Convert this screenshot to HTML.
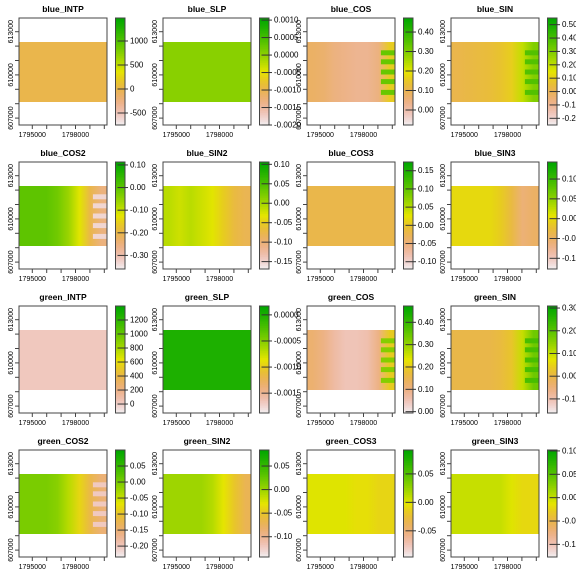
<!DOCTYPE html>
<html><head><meta charset="utf-8"><style>
html,body{margin:0;padding:0;background:#fff;}
svg{display:block;font-family:"Liberation Sans",Arial,sans-serif;}
</style></head><body>
<svg id="fig" width="576" height="576" viewBox="0 0 576 576"></svg>
<script>
// ---- data ----
const titles = ["blue_INTP","blue_SLP","blue_COS","blue_SIN","blue_COS2","blue_SIN2","blue_COS3","blue_SIN3",
"green_INTP","green_SLP","green_COS","green_SIN","green_COS2","green_SIN2","green_COS3","green_SIN3"];
const legendMin = [-750,-0.0020,-0.077,-0.25,-0.36,-0.169,-0.12,-0.127,-128,-0.00188,-0.006,-0.162,-0.234,-0.143,-0.096,-0.127];
const legendMax = [1479,0.00106,0.472,0.55,0.113,0.106,0.174,0.143,1400,0.00017,0.473,0.309,0.10,0.084,0.092,0.102];
const legendTicks = [
 [1000,500,0,-500],
 [0.0010,0.0005,0.0000,-0.0005,-0.0010,-0.0015,-0.0020],
 [0.40,0.30,0.20,0.10,0.00],
 [0.50,0.40,0.30,0.20,0.10,0.00,-0.10,-0.20],
 [0.10,0.00,-0.10,-0.20,-0.30],
 [0.10,0.05,0.00,-0.05,-0.10,-0.15],
 [0.15,0.10,0.05,0.00,-0.05,-0.10],
 [0.10,0.05,0.00,-0.05,-0.10],
 [1200,1000,800,600,400,200,0],
 [0.0000,-0.0005,-0.0010,-0.0015],
 [0.40,0.30,0.20,0.10,0.00],
 [0.30,0.20,0.10,0.00,-0.10],
 [0.05,0.00,-0.05,-0.10,-0.15,-0.20],
 [0.05,0.00,-0.05,-0.10],
 [0.05,0.00,-0.05],
 [0.10,0.05,0.00,-0.05,-0.10]];
const tickDigits = [0,4,2,2,2,2,2,2,0,4,2,2,2,2,2,2];
// raster mean values across 8 vertical bands (west -> east)
const bandValues = [
 [0,0,0,0,0,0,0,0],
 [0.00005,0.00005,0.00005,0.00005,0.00005,0.00005,0.00005,0.00005],
 [0.08,0.07,0.05,0.04,0.03,0.03,0.05,0.16],
 [0.02,0.03,0.04,0.05,0.07,0.1,0.2,0.3],
 [0.0,0.0,0.0,-0.02,-0.06,-0.12,-0.2,-0.25],
 [-0.01,-0.02,-0.01,-0.02,-0.03,-0.05,-0.07,-0.08],
 [-0.02,-0.02,-0.02,-0.02,-0.02,-0.02,-0.02,-0.02],
 [0.0,0.0,0.0,0.0,-0.01,-0.03,-0.06,-0.05],
 [30,30,30,30,30,30,30,30],
 [0.0,0.0,0.0,0.0,0.0,0.0,0.0,0.0],
 [0.12,0.1,0.07,0.05,0.05,0.06,0.1,0.2],
 [0.0,0.0,0.0,0.0,0.01,0.03,0.1,0.18],
 [0.0,0.0,0.0,-0.01,-0.04,-0.08,-0.12,-0.15],
 [0.0,0.0,0.0,0.0,-0.01,-0.03,-0.05,-0.07],
 [0.0,0.0,0.0,0.0,-0.005,-0.005,-0.01,-0.01],
 [0.0,0.0,0.0,0.0,0.0,-0.01,-0.02,-0.02]];
// east-side streaks: value per panel (null = none), at relative heights
const streakValue = [null,null,0.33,0.38,-0.33,null,null,null,null,null,0.32,0.22,-0.2,null,null,null];
const streakRows = [0.18,0.33,0.5,0.66,0.84];
const xTicks = [1795000,1796000,1797000,1798000,1799000,1800000];
const xLabels = [1795000,1798000];
const yTicks = [613000,612000,611000,610000,609000,608000,607000];
const yLabels = [613000,610000,607000];

// ---- helpers ----
const NS="http://www.w3.org/2000/svg";
const svg=document.getElementById('fig');
function mk(tag,attrs,parent){const e=document.createElementNS(NS,tag);for(const k in attrs)e.setAttribute(k,attrs[k]);(parent||svg).appendChild(e);return e;}
function hsv(h,s,v){const i=Math.floor(h*6),f=h*6-i,p=v*(1-s),q=v*(1-f*s),t=v*(1-(1-f)*s);let r,g,b;
 switch(((i%6)+6)%6){case 0:r=v;g=t;b=p;break;case 1:r=q;g=v;b=p;break;case 2:r=p;g=v;b=t;break;case 3:r=p;g=q;b=v;break;case 4:r=t;g=p;b=v;break;default:r=v;g=p;b=q;}
 return `rgb(${Math.round(r*255)},${Math.round(g*255)},${Math.round(b*255)})`;}
function cmap(t){t=Math.max(0,Math.min(1,t));const p=1-t;
 if(p<0.5){const u=p/0.5;return hsv(4/12-2/12*u,1,0.65+0.25*u);}
 const u=(p-0.5)/0.5;return hsv(2/12*(1-u),1-u,0.9+0.05*u);}

const X0=32.3, Y0=31.7, S=14.4/1000;
function xs(v){return X0+(v-1795000)*S;}
function ys(v){return Y0+(613000-v)*S;}
const BX0=19,BX1=107,BY0=18,BY1=125,RY0=42,RY1=102,LX0=115.5,LX1=125;

titles.forEach((name,i)=>{
 const ox=(i%4)*144, oy=Math.floor(i/4)*144;
 const g=mk('g',{transform:`translate(${ox},${oy})`});
 
 
 const lo=legendMin[i],hi=legendMax[i];
 const vt=v=>(v-lo)/(hi-lo);
 const ly=v=>BY1-(v-lo)/(hi-lo)*(BY1-BY0);
 const t=mk('text',{x:63,y:12,'text-anchor':'middle','font-size':'8.5','font-weight':'bold',fill:'#000'},g);
 t.textContent=name;
 
 
 // raster
 const gid='grad'+i;
 const lg=mk('linearGradient',{id:gid,x1:'0',x2:'1',y1:'0',y2:'0'},mk('defs',{},g));
 bandValues[i].forEach((v,k)=>mk('stop',{offset:((k+0.5)/8).toFixed(3),'stop-color':cmap(vt(v))},lg));
 const r=mk('rect',{x:BX0,y:RY0,width:BX1-BX0,height:RY1-RY0,fill:`url(#${gid})`},g);
 
 
 if(streakValue[i]!==null){
  streakRows.forEach(fr=>{
   const s=mk('rect',{x:BX0+(BX1-BX0)*0.84,y:RY0+(RY1-RY0)*fr-2.5,width:(BX1-BX0)*0.16,height:5,fill:cmap(vt(streakValue[i]))},g);
   
   
  });
 }
 // box
 const b=mk('rect',{x:BX0,y:BY0,width:BX1-BX0,height:BY1-BY0,fill:'none',stroke:'#444','stroke-width':1},g);
 
 
 // x ticks
 xTicks.forEach(v=>mk('line',{x1:xs(v),x2:xs(v),y1:BY1,y2:BY1+4,stroke:'#444'},g));
 xLabels.forEach(v=>{const tx=mk('text',{x:xs(v),y:BY1+12,'text-anchor':'middle','font-size':'7',fill:'#000'},g);tx.textContent=v;
  
  });
 yTicks.forEach(v=>mk('line',{x1:BX0-4,x2:BX0,y1:ys(v),y2:ys(v),stroke:'#444'},g));
 yLabels.forEach(v=>{const tx=mk('text',{x:0,y:0,transform:`translate(13,${ys(v)}) rotate(-90)`,'text-anchor':'middle','font-size':'7',fill:'#000'},g);tx.textContent=v;
  
  });
 // legend
 const lgG=mk('g',{},g);
 
 
 const N=60;
 for(let k=0;k<N;k++){const y0=BY1-(k+1)*(BY1-BY0)/N;
  mk('rect',{x:LX0,y:y0,width:LX1-LX0,height:(BY1-BY0)/N+0.4,fill:cmap((k+0.5)/N)},lgG);}
 mk('rect',{x:LX0,y:BY0,width:LX1-LX0,height:BY1-BY0,fill:'none',stroke:'#444','stroke-width':1},lgG);
 legendTicks[i].forEach(v=>{const y=ly(v);
  mk('line',{x1:LX0+2,x2:LX1+3,y1:y,y2:y,stroke:'#333','stroke-width':1},lgG);
  const tx=mk('text',{x:LX1+5,y:y+2.5,'font-size':'8',fill:'#000'},lgG);
  tx.textContent=v.toFixed(tickDigits[i]);
  
  });
});
</script>
</body></html>
